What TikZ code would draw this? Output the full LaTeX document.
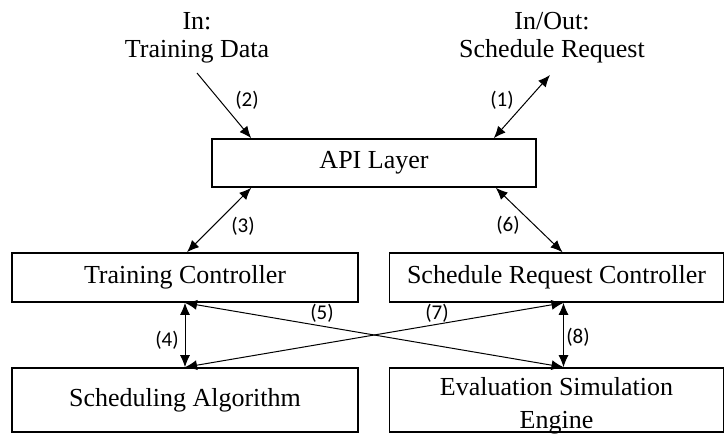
\documentclass[tikz,border=0pt]{standalone}
\usepackage{fontspec}
\setmainfont{Liberation Serif}
\newfontfamily\numfont{Carlito}
\usetikzlibrary{arrows.meta,calc}

\begin{document}
\begin{tikzpicture}[x=0.5pt,y=-0.5pt]
    \tikzstyle{box}=[draw,line width=0.8pt,inner sep=0pt,align=center,font=\fontsize{13}{16.5}\selectfont]
    \tikzstyle{io}=[align=center,font=\fontsize{13}{14}\selectfont]
    \tikzstyle{link}=[line width=0.5pt,-{Latex[length=6pt,width=5pt]}]
    \tikzstyle{both}=[line width=0.5pt,{Latex[length=6pt,width=5pt]}-{Latex[length=6pt,width=5pt]}]
    \tikzstyle{num}=[font=\numfont\fontsize{10.5}{12}\selectfont,inner sep=0pt]
    \useasboundingbox (0,0) rectangle (724,434);
    % boxes
    \node[box,minimum width=162pt,minimum height=24pt] (api) at (374,163) {API Layer};
    \node[box,minimum width=173pt,minimum height=24.5pt] (tc) at (185,277.5) {Training Controller};
    \node[box,minimum width=173pt,minimum height=32pt] (sa) at (185,400) {Scheduling Algorithm};
    \node[box,minimum width=167pt,minimum height=24.5pt] (src) at (556.5,277.5) {Schedule Request Controller};
    \node[box,minimum width=167pt,minimum height=32pt] (ese) at (556.5,400) {};
    \node[box,draw=none] (eselbl) at ($(ese.center)+(0,6)$) {Evaluation Simulation\\Engine};
    % inputs
    \node[io] (trainin) at (197,38) {In:\\Training Data};
    \node[io] (reqio) at (552,38) {In/Out:\\Schedule Request};
    \coordinate (trainend) at (197,73);
    \coordinate (reqend) at (550,75);
    % connectors
    \draw[link] (trainend) -- ($(api.north west)+(40,0)$);
    \draw[both] ($(api.north east)+(-43,0)$) -- (reqend);
    \draw[both] ($(api.south west)+(40,0)$) -- ($(tc.north)+(2,0)$);
    \draw[both] ($(api.south east)+(-41,0)$) -- ($(src.north)+(6,0)$);
    \draw[both] (tc.south) -- (sa.north);
    \draw[both] ($(src.south)+(7,0)$) -- ($(ese.north)+(7,0)$);
    \draw[both] (tc.south) -- ($(ese.north)+(7,0)$);
    \draw[both] (sa.north) -- ($(src.south)+(7,0)$);
    % numbers
    \node[num] (n1) at (502,100) {(1)};
    \node[num] (n2) at (247,100) {(2)};
    \node[num] (n3) at (243,226) {(3)};
    \node[num] (n4) at (167,340) {(4)};
    \node[num] (n5) at (322,313) {(5)};
    \node[num] (n6) at (508,225) {(6)};
    \node[num] (n7) at (437,313) {(7)};
    \node[num] (n8) at (578,337) {(8)};
\end{tikzpicture}
\end{document}
